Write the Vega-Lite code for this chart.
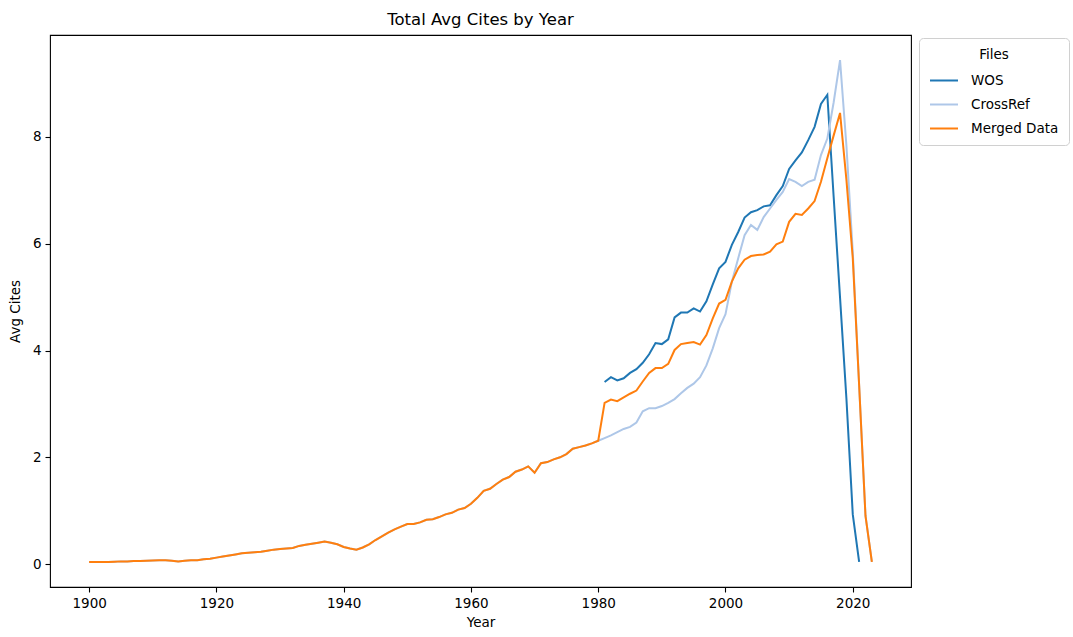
{
  "$schema": "https://vega.github.io/schema/vega-lite/v6.json",
  "width": 861,
  "height": 552,
  "autosize": {"type": "none"},
  "padding": {"left": 50, "top": 35, "right": 162, "bottom": 50},
  "background": "white",
  "config": {
    "font": "DejaVu Sans",
    "view": {"stroke": "black", "strokeWidth": 1.1},
    "axis": {
      "grid": false,
      "domain": false,
      "tickColor": "black",
      "tickWidth": 1.1,
      "tickSize": 5,
      "labelFont": "DejaVu Sans",
      "labelFontSize": 13.5,
      "labelColor": "black",
      "labelPadding": 4,
      "titleFont": "DejaVu Sans",
      "titleFontSize": 13.5,
      "titleFontWeight": "normal",
      "titleColor": "black"
    }
  },
  "title": {
    "text": "Total Avg Cites by Year",
    "font": "DejaVu Sans",
    "fontSize": 16.5,
    "fontWeight": "normal",
    "color": "black",
    "anchor": "middle",
    "offset": 7
  },
  "data": {
    "values": [
      {"year":1900,"value":0.04,"series":"Merged Data"},{"year":1901,"value":0.04,"series":"Merged Data"},{"year":1902,"value":0.04,"series":"Merged Data"},{"year":1903,"value":0.04,"series":"Merged Data"},{"year":1904,"value":0.045,"series":"Merged Data"},{"year":1905,"value":0.05,"series":"Merged Data"},{"year":1906,"value":0.05,"series":"Merged Data"},{"year":1907,"value":0.055,"series":"Merged Data"},{"year":1908,"value":0.055,"series":"Merged Data"},{"year":1909,"value":0.06,"series":"Merged Data"},{"year":1910,"value":0.065,"series":"Merged Data"},{"year":1911,"value":0.07,"series":"Merged Data"},{"year":1912,"value":0.07,"series":"Merged Data"},{"year":1913,"value":0.06,"series":"Merged Data"},{"year":1914,"value":0.05,"series":"Merged Data"},{"year":1915,"value":0.06,"series":"Merged Data"},{"year":1916,"value":0.07,"series":"Merged Data"},{"year":1917,"value":0.07,"series":"Merged Data"},{"year":1918,"value":0.09,"series":"Merged Data"},{"year":1919,"value":0.1,"series":"Merged Data"},{"year":1920,"value":0.12,"series":"Merged Data"},{"year":1921,"value":0.14,"series":"Merged Data"},{"year":1922,"value":0.16,"series":"Merged Data"},{"year":1923,"value":0.18,"series":"Merged Data"},{"year":1924,"value":0.2,"series":"Merged Data"},{"year":1925,"value":0.21,"series":"Merged Data"},{"year":1926,"value":0.22,"series":"Merged Data"},{"year":1927,"value":0.23,"series":"Merged Data"},{"year":1928,"value":0.25,"series":"Merged Data"},{"year":1929,"value":0.27,"series":"Merged Data"},{"year":1930,"value":0.28,"series":"Merged Data"},{"year":1931,"value":0.29,"series":"Merged Data"},{"year":1932,"value":0.3,"series":"Merged Data"},{"year":1933,"value":0.34,"series":"Merged Data"},{"year":1934,"value":0.36,"series":"Merged Data"},{"year":1935,"value":0.38,"series":"Merged Data"},{"year":1936,"value":0.4,"series":"Merged Data"},{"year":1937,"value":0.42,"series":"Merged Data"},{"year":1938,"value":0.4,"series":"Merged Data"},{"year":1939,"value":0.37,"series":"Merged Data"},{"year":1940,"value":0.32,"series":"Merged Data"},{"year":1941,"value":0.29,"series":"Merged Data"},{"year":1942,"value":0.27,"series":"Merged Data"},{"year":1943,"value":0.31,"series":"Merged Data"},{"year":1944,"value":0.37,"series":"Merged Data"},{"year":1945,"value":0.45,"series":"Merged Data"},{"year":1946,"value":0.52,"series":"Merged Data"},{"year":1947,"value":0.59,"series":"Merged Data"},{"year":1948,"value":0.65,"series":"Merged Data"},{"year":1949,"value":0.7,"series":"Merged Data"},{"year":1950,"value":0.75,"series":"Merged Data"},{"year":1951,"value":0.75,"series":"Merged Data"},{"year":1952,"value":0.78,"series":"Merged Data"},{"year":1953,"value":0.83,"series":"Merged Data"},{"year":1954,"value":0.84,"series":"Merged Data"},{"year":1955,"value":0.88,"series":"Merged Data"},{"year":1956,"value":0.93,"series":"Merged Data"},{"year":1957,"value":0.96,"series":"Merged Data"},{"year":1958,"value":1.02,"series":"Merged Data"},{"year":1959,"value":1.05,"series":"Merged Data"},{"year":1960,"value":1.13,"series":"Merged Data"},{"year":1961,"value":1.24,"series":"Merged Data"},{"year":1962,"value":1.37,"series":"Merged Data"},{"year":1963,"value":1.41,"series":"Merged Data"},{"year":1964,"value":1.5,"series":"Merged Data"},{"year":1965,"value":1.58,"series":"Merged Data"},{"year":1966,"value":1.63,"series":"Merged Data"},{"year":1967,"value":1.73,"series":"Merged Data"},{"year":1968,"value":1.77,"series":"Merged Data"},{"year":1969,"value":1.83,"series":"Merged Data"},{"year":1970,"value":1.71,"series":"Merged Data"},{"year":1971,"value":1.89,"series":"Merged Data"},{"year":1972,"value":1.91,"series":"Merged Data"},{"year":1973,"value":1.96,"series":"Merged Data"},{"year":1974,"value":2.0,"series":"Merged Data"},{"year":1975,"value":2.06,"series":"Merged Data"},{"year":1976,"value":2.16,"series":"Merged Data"},{"year":1977,"value":2.19,"series":"Merged Data"},{"year":1978,"value":2.22,"series":"Merged Data"},{"year":1979,"value":2.26,"series":"Merged Data"},{"year":1980,"value":2.31,"series":"Merged Data"},{"year":1981,"value":3.02,"series":"Merged Data"},{"year":1982,"value":3.08,"series":"Merged Data"},{"year":1983,"value":3.05,"series":"Merged Data"},{"year":1984,"value":3.12,"series":"Merged Data"},{"year":1985,"value":3.19,"series":"Merged Data"},{"year":1986,"value":3.25,"series":"Merged Data"},{"year":1987,"value":3.42,"series":"Merged Data"},{"year":1988,"value":3.58,"series":"Merged Data"},{"year":1989,"value":3.67,"series":"Merged Data"},{"year":1990,"value":3.67,"series":"Merged Data"},{"year":1991,"value":3.75,"series":"Merged Data"},{"year":1992,"value":4.01,"series":"Merged Data"},{"year":1993,"value":4.12,"series":"Merged Data"},{"year":1994,"value":4.14,"series":"Merged Data"},{"year":1995,"value":4.16,"series":"Merged Data"},{"year":1996,"value":4.11,"series":"Merged Data"},{"year":1997,"value":4.29,"series":"Merged Data"},{"year":1998,"value":4.6,"series":"Merged Data"},{"year":1999,"value":4.88,"series":"Merged Data"},{"year":2000,"value":4.95,"series":"Merged Data"},{"year":2001,"value":5.29,"series":"Merged Data"},{"year":2002,"value":5.54,"series":"Merged Data"},{"year":2003,"value":5.7,"series":"Merged Data"},{"year":2004,"value":5.77,"series":"Merged Data"},{"year":2005,"value":5.79,"series":"Merged Data"},{"year":2006,"value":5.8,"series":"Merged Data"},{"year":2007,"value":5.85,"series":"Merged Data"},{"year":2008,"value":5.99,"series":"Merged Data"},{"year":2009,"value":6.04,"series":"Merged Data"},{"year":2010,"value":6.41,"series":"Merged Data"},{"year":2011,"value":6.56,"series":"Merged Data"},{"year":2012,"value":6.54,"series":"Merged Data"},{"year":2013,"value":6.66,"series":"Merged Data"},{"year":2014,"value":6.8,"series":"Merged Data"},{"year":2015,"value":7.16,"series":"Merged Data"},{"year":2016,"value":7.6,"series":"Merged Data"},{"year":2017,"value":8.03,"series":"Merged Data"},{"year":2018,"value":8.45,"series":"Merged Data"},{"year":2019,"value":7.2,"series":"Merged Data"},{"year":2020,"value":5.73,"series":"Merged Data"},{"year":2021,"value":3.35,"series":"Merged Data"},{"year":2022,"value":0.9,"series":"Merged Data"},{"year":2023,"value":0.04,"series":"Merged Data"},

      {"year":1900,"value":0.04,"series":"CrossRef"},{"year":1901,"value":0.04,"series":"CrossRef"},{"year":1902,"value":0.04,"series":"CrossRef"},{"year":1903,"value":0.04,"series":"CrossRef"},{"year":1904,"value":0.045,"series":"CrossRef"},{"year":1905,"value":0.05,"series":"CrossRef"},{"year":1906,"value":0.05,"series":"CrossRef"},{"year":1907,"value":0.055,"series":"CrossRef"},{"year":1908,"value":0.055,"series":"CrossRef"},{"year":1909,"value":0.06,"series":"CrossRef"},{"year":1910,"value":0.065,"series":"CrossRef"},{"year":1911,"value":0.07,"series":"CrossRef"},{"year":1912,"value":0.07,"series":"CrossRef"},{"year":1913,"value":0.06,"series":"CrossRef"},{"year":1914,"value":0.05,"series":"CrossRef"},{"year":1915,"value":0.06,"series":"CrossRef"},{"year":1916,"value":0.07,"series":"CrossRef"},{"year":1917,"value":0.07,"series":"CrossRef"},{"year":1918,"value":0.09,"series":"CrossRef"},{"year":1919,"value":0.1,"series":"CrossRef"},{"year":1920,"value":0.12,"series":"CrossRef"},{"year":1921,"value":0.14,"series":"CrossRef"},{"year":1922,"value":0.16,"series":"CrossRef"},{"year":1923,"value":0.18,"series":"CrossRef"},{"year":1924,"value":0.2,"series":"CrossRef"},{"year":1925,"value":0.21,"series":"CrossRef"},{"year":1926,"value":0.22,"series":"CrossRef"},{"year":1927,"value":0.23,"series":"CrossRef"},{"year":1928,"value":0.25,"series":"CrossRef"},{"year":1929,"value":0.27,"series":"CrossRef"},{"year":1930,"value":0.28,"series":"CrossRef"},{"year":1931,"value":0.29,"series":"CrossRef"},{"year":1932,"value":0.3,"series":"CrossRef"},{"year":1933,"value":0.34,"series":"CrossRef"},{"year":1934,"value":0.36,"series":"CrossRef"},{"year":1935,"value":0.38,"series":"CrossRef"},{"year":1936,"value":0.4,"series":"CrossRef"},{"year":1937,"value":0.42,"series":"CrossRef"},{"year":1938,"value":0.4,"series":"CrossRef"},{"year":1939,"value":0.37,"series":"CrossRef"},{"year":1940,"value":0.32,"series":"CrossRef"},{"year":1941,"value":0.29,"series":"CrossRef"},{"year":1942,"value":0.27,"series":"CrossRef"},{"year":1943,"value":0.31,"series":"CrossRef"},{"year":1944,"value":0.37,"series":"CrossRef"},{"year":1945,"value":0.45,"series":"CrossRef"},{"year":1946,"value":0.52,"series":"CrossRef"},{"year":1947,"value":0.59,"series":"CrossRef"},{"year":1948,"value":0.65,"series":"CrossRef"},{"year":1949,"value":0.7,"series":"CrossRef"},{"year":1950,"value":0.75,"series":"CrossRef"},{"year":1951,"value":0.75,"series":"CrossRef"},{"year":1952,"value":0.78,"series":"CrossRef"},{"year":1953,"value":0.83,"series":"CrossRef"},{"year":1954,"value":0.84,"series":"CrossRef"},{"year":1955,"value":0.88,"series":"CrossRef"},{"year":1956,"value":0.93,"series":"CrossRef"},{"year":1957,"value":0.96,"series":"CrossRef"},{"year":1958,"value":1.02,"series":"CrossRef"},{"year":1959,"value":1.05,"series":"CrossRef"},{"year":1960,"value":1.13,"series":"CrossRef"},{"year":1961,"value":1.24,"series":"CrossRef"},{"year":1962,"value":1.37,"series":"CrossRef"},{"year":1963,"value":1.41,"series":"CrossRef"},{"year":1964,"value":1.5,"series":"CrossRef"},{"year":1965,"value":1.58,"series":"CrossRef"},{"year":1966,"value":1.63,"series":"CrossRef"},{"year":1967,"value":1.73,"series":"CrossRef"},{"year":1968,"value":1.77,"series":"CrossRef"},{"year":1969,"value":1.83,"series":"CrossRef"},{"year":1970,"value":1.71,"series":"CrossRef"},{"year":1971,"value":1.89,"series":"CrossRef"},{"year":1972,"value":1.91,"series":"CrossRef"},{"year":1973,"value":1.96,"series":"CrossRef"},{"year":1974,"value":2.0,"series":"CrossRef"},{"year":1975,"value":2.06,"series":"CrossRef"},{"year":1976,"value":2.16,"series":"CrossRef"},{"year":1977,"value":2.19,"series":"CrossRef"},{"year":1978,"value":2.22,"series":"CrossRef"},{"year":1979,"value":2.26,"series":"CrossRef"},{"year":1980,"value":2.31,"series":"CrossRef"},{"year":1981,"value":2.36,"series":"CrossRef"},{"year":1982,"value":2.41,"series":"CrossRef"},{"year":1983,"value":2.47,"series":"CrossRef"},{"year":1984,"value":2.53,"series":"CrossRef"},{"year":1985,"value":2.57,"series":"CrossRef"},{"year":1986,"value":2.65,"series":"CrossRef"},{"year":1987,"value":2.86,"series":"CrossRef"},{"year":1988,"value":2.92,"series":"CrossRef"},{"year":1989,"value":2.92,"series":"CrossRef"},{"year":1990,"value":2.96,"series":"CrossRef"},{"year":1991,"value":3.02,"series":"CrossRef"},{"year":1992,"value":3.09,"series":"CrossRef"},{"year":1993,"value":3.2,"series":"CrossRef"},{"year":1994,"value":3.3,"series":"CrossRef"},{"year":1995,"value":3.38,"series":"CrossRef"},{"year":1996,"value":3.5,"series":"CrossRef"},{"year":1997,"value":3.72,"series":"CrossRef"},{"year":1998,"value":4.04,"series":"CrossRef"},{"year":1999,"value":4.42,"series":"CrossRef"},{"year":2000,"value":4.68,"series":"CrossRef"},{"year":2001,"value":5.29,"series":"CrossRef"},{"year":2002,"value":5.73,"series":"CrossRef"},{"year":2003,"value":6.16,"series":"CrossRef"},{"year":2004,"value":6.35,"series":"CrossRef"},{"year":2005,"value":6.26,"series":"CrossRef"},{"year":2006,"value":6.5,"series":"CrossRef"},{"year":2007,"value":6.66,"series":"CrossRef"},{"year":2008,"value":6.82,"series":"CrossRef"},{"year":2009,"value":6.97,"series":"CrossRef"},{"year":2010,"value":7.21,"series":"CrossRef"},{"year":2011,"value":7.16,"series":"CrossRef"},{"year":2012,"value":7.08,"series":"CrossRef"},{"year":2013,"value":7.16,"series":"CrossRef"},{"year":2014,"value":7.2,"series":"CrossRef"},{"year":2015,"value":7.66,"series":"CrossRef"},{"year":2016,"value":7.97,"series":"CrossRef"},{"year":2017,"value":8.65,"series":"CrossRef"},{"year":2018,"value":9.44,"series":"CrossRef"},{"year":2019,"value":7.84,"series":"CrossRef"},{"year":2020,"value":5.85,"series":"CrossRef"},{"year":2021,"value":3.35,"series":"CrossRef"},{"year":2022,"value":0.9,"series":"CrossRef"},{"year":2023,"value":0.04,"series":"CrossRef"},

      {"year":1981,"value":3.41,"series":"WOS"},{"year":1982,"value":3.5,"series":"WOS"},{"year":1983,"value":3.44,"series":"WOS"},{"year":1984,"value":3.48,"series":"WOS"},{"year":1985,"value":3.58,"series":"WOS"},{"year":1986,"value":3.65,"series":"WOS"},{"year":1987,"value":3.77,"series":"WOS"},{"year":1988,"value":3.93,"series":"WOS"},{"year":1989,"value":4.14,"series":"WOS"},{"year":1990,"value":4.12,"series":"WOS"},{"year":1991,"value":4.21,"series":"WOS"},{"year":1992,"value":4.62,"series":"WOS"},{"year":1993,"value":4.71,"series":"WOS"},{"year":1994,"value":4.71,"series":"WOS"},{"year":1995,"value":4.79,"series":"WOS"},{"year":1996,"value":4.73,"series":"WOS"},{"year":1997,"value":4.92,"series":"WOS"},{"year":1998,"value":5.24,"series":"WOS"},{"year":1999,"value":5.54,"series":"WOS"},{"year":2000,"value":5.66,"series":"WOS"},{"year":2001,"value":5.98,"series":"WOS"},{"year":2002,"value":6.22,"series":"WOS"},{"year":2003,"value":6.49,"series":"WOS"},{"year":2004,"value":6.59,"series":"WOS"},{"year":2005,"value":6.63,"series":"WOS"},{"year":2006,"value":6.7,"series":"WOS"},{"year":2007,"value":6.72,"series":"WOS"},{"year":2008,"value":6.91,"series":"WOS"},{"year":2009,"value":7.08,"series":"WOS"},{"year":2010,"value":7.4,"series":"WOS"},{"year":2011,"value":7.56,"series":"WOS"},{"year":2012,"value":7.71,"series":"WOS"},{"year":2013,"value":7.94,"series":"WOS"},{"year":2014,"value":8.19,"series":"WOS"},{"year":2015,"value":8.62,"series":"WOS"},{"year":2016,"value":8.79,"series":"WOS"},{"year":2017,"value":6.87,"series":"WOS"},{"year":2018,"value":4.99,"series":"WOS"},{"year":2019,"value":3.1,"series":"WOS"},{"year":2020,"value":0.93,"series":"WOS"},{"year":2021,"value":0.04,"series":"WOS"}
    ]
  },
  "encoding": {
    "x": {
      "field": "year",
      "type": "quantitative",
      "title": "Year",
      "scale": {"domain": [1893.85, 2029.15], "nice": false, "zero": false},
      "axis": {"values": [1900, 1920, 1940, 1960, 1980, 2000, 2020], "format": "d", "titlePadding": 6}
    },
    "y": {
      "field": "value",
      "type": "quantitative",
      "title": "Avg Cites",
      "scale": {"domain": [-0.43, 9.91], "nice": false, "zero": false},
      "axis": {"values": [0, 2, 4, 6, 8], "format": "d", "titlePadding": 10}
    },
    "color": {
      "field": "series",
      "type": "nominal",
      "scale": {"domain": ["WOS", "CrossRef", "Merged Data"], "range": ["#1f77b4", "#aec7e8", "#ff7f0e"]},
      "legend": {
        "title": "Files",
        "orient": "none",
        "legendX": 869,
        "legendY": 3,
        "symbolType": "stroke",
        "symbolSize": 784,
        "symbolStrokeWidth": 2,
        "titleFont": "DejaVu Sans",
        "titleFontSize": 13.5,
        "titleFontWeight": "normal",
        "titleAnchor": "middle",
        "titleColor": "black",
        "titlePadding": 4,
        "labelFont": "DejaVu Sans",
        "labelFontSize": 13.5,
        "labelColor": "black",
        "labelOffset": 12,
        "rowPadding": 2,
        "padding": 10,
        "strokeColor": "#d0d0d0",
        "cornerRadius": 4,
        "fillColor": "white"
      }
    }
  },
  "layer": [
    {"transform": [{"filter": "datum.series === 'WOS'"}], "mark": {"type": "line", "strokeWidth": 2}},
    {"transform": [{"filter": "datum.series === 'CrossRef'"}], "mark": {"type": "line", "strokeWidth": 2}},
    {"transform": [{"filter": "datum.series === 'Merged Data'"}], "mark": {"type": "line", "strokeWidth": 2}}
  ]
}
